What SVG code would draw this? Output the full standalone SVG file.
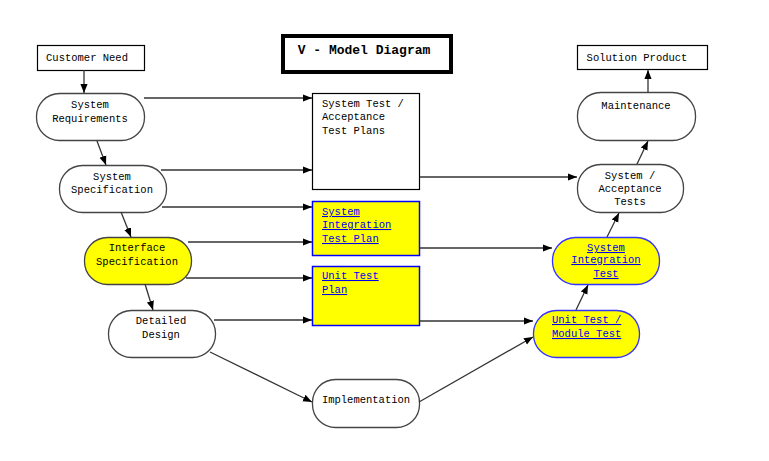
<svg xmlns="http://www.w3.org/2000/svg" width="769" height="461" viewBox="0 0 769 461">
<style>
text{font-family:"Liberation Mono","Courier New",monospace;font-size:10.5px;fill:#000}
.c{text-anchor:middle}
.pill{fill:#fff;stroke:#444;stroke-width:1.3}
.ypill{fill:#ffff00;stroke:#444;stroke-width:1.3}
.bpill{fill:#ffff00;stroke:#3333ff;stroke-width:1.3}
.box{fill:#fff;stroke:#000;stroke-width:1.2}
.ybox{fill:#ffff00;stroke:#0000ff;stroke-width:1.5}
.lk{fill:#0000ee;text-decoration:underline}
.ln{stroke:#333;stroke-width:1.3;fill:none;marker-end:url(#ah)}
</style>
<defs>
<marker id="ah" viewBox="0 0 10 10" refX="10" refY="5" markerWidth="9" markerHeight="9" markerUnits="userSpaceOnUse" orient="auto">
<path d="M0,1 L10,5 L0,9 z" fill="#000"/>
</marker>
</defs>
<rect width="769" height="461" fill="#fff"/>

<g id="title">
<rect x="283" y="36" width="168" height="36" fill="#fff" stroke="#000" stroke-width="4"/>
<text x="364" y="54" class="c" style="font-weight:bold;font-size:13px">V - Model Diagram</text>
</g>

<g id="customer-need">
<rect class="box" x="37.5" y="45.5" width="107" height="25"/>
<text x="87" y="61" class="c">Customer Need</text>
</g>
<g id="system-requirements">
<rect class="pill" x="36.5" y="93.5" width="108" height="47" rx="23" ry="23"/>
<text x="90" y="108" class="c">System</text>
<text x="90" y="122" class="c">Requirements</text>
</g>
<g id="system-specification">
<rect class="pill" x="59.5" y="165.5" width="107" height="47" rx="23" ry="23"/>
<text x="112" y="180" class="c">System</text>
<text x="112" y="193" class="c">Specification</text>
</g>
<g id="interface-specification">
<rect class="ypill" x="84.5" y="237.5" width="107" height="47" rx="23" ry="23"/>
<text x="137" y="251" class="c">Interface</text>
<text x="137" y="265" class="c">Specification</text>
</g>
<g id="detailed-design">
<rect class="pill" x="108.5" y="310.5" width="107" height="47" rx="23" ry="23"/>
<text x="161" y="324" class="c">Detailed</text>
<text x="161" y="338" class="c">Design</text>
</g>
<g id="implementation">
<rect class="pill" x="312.5" y="379.5" width="107" height="48" rx="23" ry="23"/>
<text x="366" y="403" class="c">Implementation</text>
</g>

<g id="system-test-plans">
<rect class="box" x="312.5" y="93.5" width="107" height="96"/>
<text x="322" y="107">System Test /</text>
<text x="322" y="120">Acceptance</text>
<text x="322" y="134">Test Plans</text>
</g>
<g id="system-integration-test-plan">
<rect class="ybox" x="312.5" y="201.5" width="107" height="54"/>
<text x="322" y="215" class="lk">System</text>
<text x="322" y="228" class="lk">Integration</text>
<text x="322" y="242" class="lk">Test Plan</text>
</g>
<g id="unit-test-plan">
<rect class="ybox" x="312.5" y="266.5" width="107" height="59"/>
<text x="322" y="279" class="lk">Unit Test</text>
<text x="322" y="293" class="lk">Plan</text>
</g>

<g id="solution-product">
<rect class="box" x="577.5" y="45.5" width="130" height="24"/>
<text x="637" y="61" class="c">Solution Product</text>
</g>
<g id="maintenance">
<rect class="pill" x="577.5" y="92.5" width="118" height="48" rx="23" ry="23"/>
<text x="636" y="109" class="c">Maintenance</text>
</g>
<g id="system-acceptance-tests">
<rect class="pill" x="577.5" y="164.5" width="106" height="48" rx="23" ry="23"/>
<text x="630" y="179" class="c">System /</text>
<text x="630" y="192" class="c">Acceptance</text>
<text x="630" y="205" class="c">Tests</text>
</g>
<g id="system-integration-test">
<rect class="bpill" x="552.5" y="237.5" width="107" height="47" rx="23" ry="23"/>
<text x="606" y="251" class="c lk">System</text>
<text x="606" y="263" class="c lk">Integration</text>
<text x="606" y="277" class="c lk">Test</text>
</g>
<g id="unit-module-test">
<rect class="bpill" x="533.5" y="310.5" width="106" height="47" rx="23" ry="23"/>
<text x="552" y="323" class="lk">Unit Test /</text>
<text x="552" y="337" class="lk">Module Test</text>
</g>

<g id="connectors">
<line class="ln" x1="84" y1="70" x2="84" y2="93"/>
<line class="ln" x1="97" y1="141" x2="106" y2="165"/>
<line class="ln" x1="121" y1="212" x2="131" y2="237"/>
<line class="ln" x1="145" y1="284" x2="153" y2="310"/>
<line class="ln" x1="144" y1="98" x2="312" y2="98"/>
<line class="ln" x1="161" y1="170" x2="312" y2="170"/>
<line class="ln" x1="162" y1="207" x2="312" y2="207"/>
<line class="ln" x1="188" y1="242" x2="312" y2="242"/>
<line class="ln" x1="186" y1="278" x2="312" y2="278"/>
<line class="ln" x1="214" y1="320" x2="312" y2="320"/>
<line class="ln" x1="210" y1="352" x2="312" y2="402"/>
<line class="ln" x1="419" y1="402" x2="533" y2="337"/>
<line class="ln" x1="420" y1="177" x2="577" y2="177"/>
<line class="ln" x1="420" y1="248" x2="552" y2="248"/>
<line class="ln" x1="420" y1="321" x2="533" y2="321"/>
<line class="ln" x1="576" y1="310" x2="588" y2="285"/>
<line class="ln" x1="607" y1="237" x2="619" y2="213"/>
<line class="ln" x1="637" y1="164" x2="648" y2="141"/>
<line class="ln" x1="648" y1="92" x2="648" y2="70"/>
</g>
</svg>
